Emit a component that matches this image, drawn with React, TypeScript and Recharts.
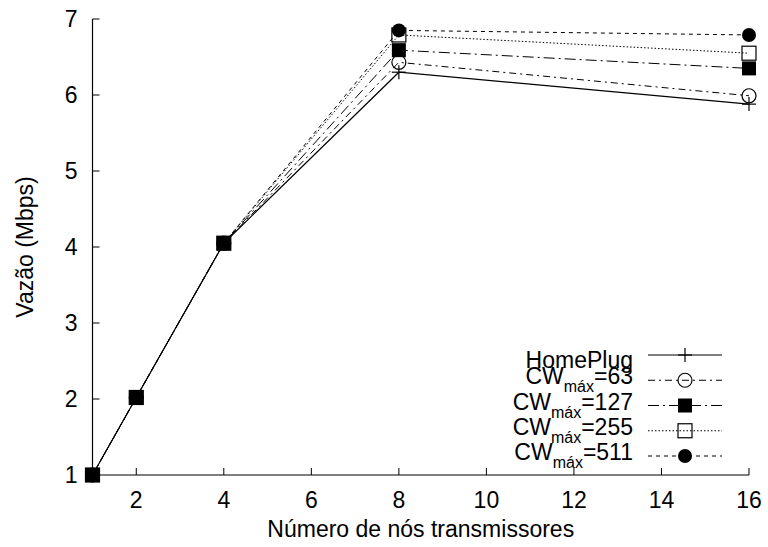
import React from 'react';
import { LineChart, Line, XAxis, YAxis, Legend } from 'recharts';

// transmitting nodes (x) and throughput in Mbps for each backoff setting
const xNodes = [1, 2, 4, 8, 16];
const homePlug = [1.0, 2.02, 4.05, 6.3, 5.88];
const cw63 = [1.0, 2.02, 4.05, 6.43, 5.99];
const cw127 = [1.0, 2.02, 4.05, 6.59, 6.35];
const cw255 = [1.0, 2.02, 4.05, 6.79, 6.55];
const cw511 = [1.0, 2.02, 4.05, 6.85, 6.79];

const xTicks = [2, 4, 6, 8, 10, 12, 14, 16];
const yTicks = [1, 2, 3, 4, 5, 6, 7];

const seriesKeys = ['homePlug', 'cw63', 'cw127', 'cw255', 'cw511'];
const legendBase = ['HomePlug', 'CW', 'CW', 'CW', 'CW'];
const legendSub = ['', 'máx', 'máx', 'máx', 'máx'];
const legendRest = ['', '=63', '=127', '=255', '=511'];

const markers = ['plus', 'circle', 'square', 'openSquare', 'disc'];
const dashes = ['', '7 4 2 4', '11 4 2 4', '1.5 2', '4 4'];

const data = xNodes.map((x, i) => ({
  x,
  homePlug: homePlug[i],
  cw63: cw63[i],
  cw127: cw127[i],
  cw255: cw255[i],
  cw511: cw511[i],
}));

const FONT = '"Liberation Sans", Arial, Helvetica, sans-serif';
const FS = 23;

function Mark({ kind, cx, cy }: { kind: string; cx: number; cy: number }) {
  const s = 7;
  switch (kind) {
    case 'plus':
      return (
        <g>
          <line x1={cx - s} x2={cx + s} y1={cy} y2={cy} stroke="#000" strokeWidth={1.2} />
          <line x1={cx} x2={cx} y1={cy - s} y2={cy + s} stroke="#000" strokeWidth={1.2} />
        </g>
      );
    case 'circle':
      return <circle cx={cx} cy={cy} r={s} fill="none" stroke="#000" strokeWidth={1.2} />;
    case 'square':
      return <rect x={cx - s} y={cy - s} width={2 * s} height={2 * s} fill="#000" />;
    case 'openSquare':
      return <rect x={cx - s} y={cy - s} width={2 * s} height={2 * s} fill="none" stroke="#000" strokeWidth={1.2} />;
    default:
      return <circle cx={cx} cy={cy} r={s} fill="#000" />;
  }
}

const BottomTick = (props: any) => {
  const { x, y, payload } = props;
  return (
    <g>
      <line x1={x} x2={x} y1={y} y2={y - 7} stroke="#000" />
      <text x={x} y={y + 33} textAnchor="middle" fontSize={FS} fontFamily={FONT} fill="#000">
        {payload.value}
      </text>
    </g>
  );
};

const TopTick = (props: any) => {
  const { x, y } = props;
  return <line x1={x} x2={x} y1={y} y2={y + 7} stroke="#000" />;
};

const LeftTick = (props: any) => {
  const { x, y, payload } = props;
  return (
    <g>
      <line x1={x} x2={x + 7} y1={y} y2={y} stroke="#000" />
      <text x={x - 15} y={y + 8} textAnchor="end" fontSize={FS} fontFamily={FONT} fill="#000">
        {payload.value}
      </text>
    </g>
  );
};

const RightTick = (props: any) => {
  const { x, y } = props;
  return <line x1={x} x2={x - 7} y1={y} y2={y} stroke="#000" />;
};

const renderLegend = () => (
  <svg width={768} height={547} style={{ position: 'absolute', left: 0, top: 0 }}>
    {seriesKeys.map((k, i) => {
      const cy = 355 + 25.25 * i;
      const hasSub = legendSub[i] !== '';
      return (
        <g key={k}>
          <line x1={648} x2={722} y1={cy} y2={cy} stroke="#000" strokeWidth={i === 0 ? 1.2 : 1} strokeDasharray={dashes[i] || undefined} />
          <Mark kind={markers[i]} cx={685} cy={cy} />
          <text x={633} y={cy + (hasSub ? 4 : 13)} textAnchor="end" fontSize={FS} fontFamily={FONT} fill="#000">
            {legendBase[i]}
            {hasSub && (
              <tspan dy={8} fontSize={16}>
                {legendSub[i]}
              </tspan>
            )}
            {hasSub && <tspan dy={-8}>{legendRest[i]}</tspan>}
          </text>
        </g>
      );
    })}
  </svg>
);

export default function App() {
  return (
    <div style={{ position: 'absolute', left: 0, top: 0, width: 768, height: 547, background: '#fff' }}>
      <LineChart width={768} height={547} data={data} margin={{ top: 19, right: 19, bottom: 0, left: 0 }}>
        <XAxis
          dataKey="x"
          type="number"
          domain={[1, 16]}
          ticks={xTicks}
          height={72}
          tickSize={0}
          tickMargin={0}
          tickLine={false}
          axisLine={{ stroke: '#000', strokeWidth: 1.2 }}
          tick={<BottomTick />}
          interval={0}
          label={{ value: 'Número de nós transmissores', position: 'insideBottom', offset: 10, fontSize: FS, fontFamily: FONT, fill: '#000' }}
        />
        <XAxis
          xAxisId="top"
          dataKey="x"
          type="number"
          orientation="top"
          domain={[1, 16]}
          ticks={xTicks}
          height={0}
          tickSize={0}
          tickMargin={0}
          tickLine={false}
          axisLine={{ stroke: '#000', strokeWidth: 1.2 }}
          tick={<TopTick />}
          interval={0}
        />
        <YAxis
          type="number"
          domain={[1, 7]}
          ticks={yTicks}
          width={92.5}
          tickSize={0}
          tickMargin={0}
          tickLine={false}
          axisLine={{ stroke: '#000', strokeWidth: 1.2 }}
          tick={<LeftTick />}
          interval={0}
          label={{ value: 'Vazão (Mbps)', angle: -90, position: 'insideLeft', offset: 25, fontSize: FS, fontFamily: FONT, fill: '#000', style: { textAnchor: 'middle' } }}
        />
        <YAxis
          yAxisId="right"
          type="number"
          orientation="right"
          domain={[1, 7]}
          ticks={yTicks}
          width={0}
          tickSize={0}
          tickMargin={0}
          tickLine={false}
          axisLine={{ stroke: '#000', strokeWidth: 1.2 }}
          tick={<RightTick />}
          interval={0}
        />
        <Legend layout="horizontal" verticalAlign="middle" align="center" content={renderLegend} wrapperStyle={{ left: 0, top: 0, width: 768, height: 547, pointerEvents: 'none' }} />
        {seriesKeys.map((k, i) => (
          <Line
            key={k}
            dataKey={k}
            type="linear"
            stroke="#000"
            strokeWidth={i === 0 ? 1.2 : 1}
            strokeDasharray={dashes[i] || undefined}
            isAnimationActive={false}
            dot={(p: any) => <Mark key={`${k}-${p.index}`} kind={markers[i]} cx={p.cx} cy={p.cy} />}
            activeDot={false}
          />
        ))}
      </LineChart>
    </div>
  );
}
